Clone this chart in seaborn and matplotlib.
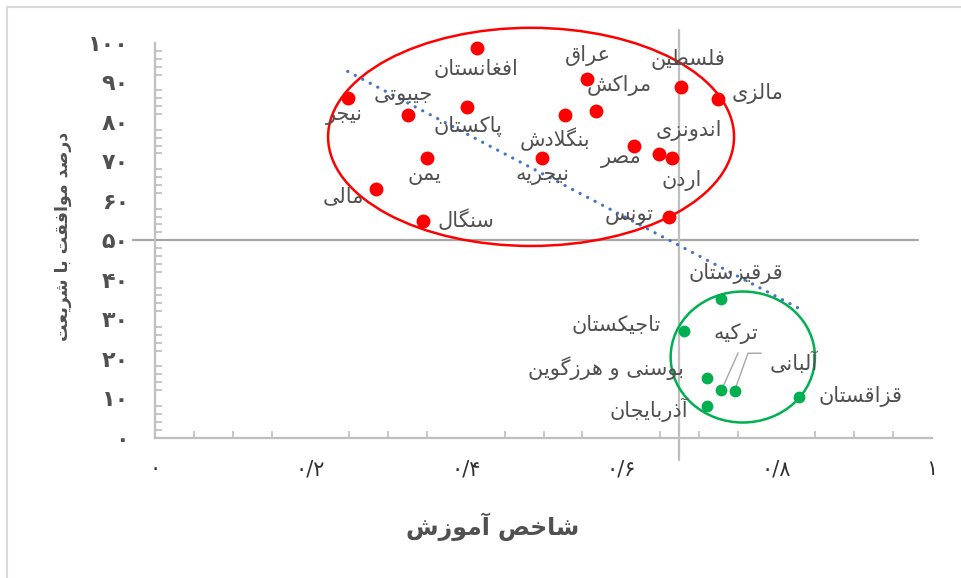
import numpy as np
import pandas as pd
import seaborn as sns
import matplotlib
matplotlib.use("Agg")
import matplotlib.pyplot as plt
from matplotlib.patches import Ellipse, Rectangle
from matplotlib.ticker import MultipleLocator, FixedLocator

# ---------------------------------------------------------------- data
# Countries with a majority agreeing with Sharia (upper group)
upper_names = ["فلسطین", "مالزی", "عراق", "مراکش", "افغانستان", "جیبوتی",
               "نیجر", "پاکستان", "بنگلادش", "اندونزی", "مصر", "اردن",
               "یمن", "نیجریه", "مالی", "سنگال", "تونس"]
upper_edu = [0.677, 0.725, 0.556, 0.568, 0.414, 0.325, 0.248, 0.401, 0.528,
             0.649, 0.617, 0.666, 0.350, 0.498, 0.284, 0.345, 0.661]
upper_sharia = [88.8, 85.8, 90.8, 82.8, 98.8, 81.7, 86.1, 83.7, 81.7,
                71.8, 73.9, 70.8, 70.9, 70.8, 62.9, 54.9, 55.8]

# Countries with a minority agreeing with Sharia (lower group)
lower_names = ["قرقیزستان", "تاجیکستان", "ترکیه", "بوسنی و هرزگوین",
               "آلبانی", "آذربایجان", "قزاقستان"]
lower_edu = [0.728, 0.681, 0.729, 0.710, 0.746, 0.710, 0.829]
lower_sharia = [35.0, 27.1, 12.0, 15.2, 11.9, 8.1, 10.2]

x_ticks = [0, 0.2, 0.4, 0.6, 0.8, 1.0]
x_tick_labels = ["۰", "۰/۲", "۰/۴", "۰/۶", "۰/۸", "۱"]
y_ticks = [0, 10, 20, 30, 40, 50, 60, 70, 80, 90, 100]
y_tick_labels = ["۰", "۱۰", "۲۰", "۳۰", "۴۰", "۵۰", "۶۰", "۷۰", "۸۰", "۹۰", "۱۰۰"]

x_title = "شاخص آموزش"
y_title = "درصد موافقت با شریعت"

edu_cut = 0.674      # vertical reference line
sharia_cut = 50      # horizontal reference line

# ------------------------------------------------ Persian text shaping
# matplotlib has no bidi/shaping engine, so map letters to their
# contextual presentation forms and lay them out right-to-left.
RIGHT_JOIN = {"ا": (0xFE8D, 0xFE8E), "آ": (0xFE81, 0xFE82),
              "د": (0xFEA9, 0xFEAA), "ذ": (0xFEAB, 0xFEAC),
              "ر": (0xFEAD, 0xFEAE), "ز": (0xFEAF, 0xFEB0),
              "ژ": (0xFB8A, 0xFB8B), "و": (0xFEED, 0xFEEE)}
DUAL_JOIN = {"ب": 0xFE8F, "ت": 0xFE95, "ث": 0xFE99, "ج": 0xFE9D,
             "ح": 0xFEA1, "خ": 0xFEA5, "س": 0xFEB1, "ش": 0xFEB5,
             "ص": 0xFEB9, "ض": 0xFEBD, "ط": 0xFEC1, "ظ": 0xFEC5,
             "ع": 0xFEC9, "غ": 0xFECD, "ف": 0xFED1, "ق": 0xFED5,
             "ل": 0xFEDD, "م": 0xFEE1, "ن": 0xFEE5, "ه": 0xFEE9,
             "پ": 0xFB56, "چ": 0xFB7A, "ک": 0xFB8E, "گ": 0xFB92,
             "ی": 0xFBFC}
LAM_ALEF = {"ا": (0xFEFB, 0xFEFC), "آ": (0xFEF5, 0xFEF6)}


def fa(text):
    out = []
    i, n = 0, len(text)
    while i < n:
        c = text[i]
        joined_before = i > 0 and text[i - 1] in DUAL_JOIN
        if c == "ل" and i + 1 < n and text[i + 1] in LAM_ALEF:
            out.append(chr(LAM_ALEF[text[i + 1]][1 if joined_before else 0]))
            i += 2
            continue
        nxt = text[i + 1] if i + 1 < n else ""
        if c in DUAL_JOIN:
            joined_after = nxt in DUAL_JOIN or nxt in RIGHT_JOIN
            base = DUAL_JOIN[c]
            if joined_before and joined_after:
                code = base + 3
            elif joined_before:
                code = base + 1
            elif joined_after:
                code = base + 2
            else:
                code = base
        elif c in RIGHT_JOIN:
            code = RIGHT_JOIN[c][1 if joined_before else 0]
        else:
            code = ord(c)
        out.append(chr(code))
        i += 1
    return "".join(reversed(out))


# ---------------------------------------------------------------- frame
sns.set_theme(style="white")
plt.rcParams["font.family"] = ["DejaVu Sans"]
TEXT = "#505050"
AXIS = "#BFBFBF"

fig = plt.figure(figsize=(9.62, 5.78), dpi=100)
ax = fig.add_axes([155 / 962, 1 - 437.5 / 578, 777 / 962, 394.5 / 578])

upper = pd.DataFrame({"country": upper_names, "edu": upper_edu, "sharia": upper_sharia})
lower = pd.DataFrame({"country": lower_names, "edu": lower_edu, "sharia": lower_sharia})
both = pd.concat([upper, lower], ignore_index=True)

# reference lines
ax.plot([-0.028, 0.982], [sharia_cut, sharia_cut], color="#A6A6A6", lw=1.6,
        clip_on=False, zorder=1)
ax.plot([edu_cut, edu_cut], [-5.6, 103.3], color="#BFBFBF", lw=1.6,
        clip_on=False, zorder=1)

# group outlines
ax.add_patch(Ellipse((0.484, 76.2), 0.5225, 55.3, fill=False, ec="#FF0000",
                     lw=1.8, clip_on=False, zorder=2))
ax.add_patch(Ellipse((0.7565, 20.4), 0.1857, 33.2, fill=False, ec="#00B050",
                     lw=1.8, clip_on=False, zorder=2))

# linear trend across all countries
slope, intercept = np.polyfit(both["edu"], both["sharia"], 1)
tx = np.array([both["edu"].min(), both["edu"].max()])
ax.plot(tx, slope * tx + intercept, color="#4472C4", lw=2.3,
        linestyle=(0, (0.05, 2.6)), dash_capstyle="round", zorder=3)

sns.scatterplot(data=upper, x="edu", y="sharia", ax=ax, color="#FF0000",
                s=100, linewidth=0, legend=False, zorder=4, clip_on=False)
sns.scatterplot(data=lower, x="edu", y="sharia", ax=ax, color="#00B050",
                s=72, linewidth=0, legend=False, zorder=4, clip_on=False)

# label offsets (pixels) from each marker
offsets = {"فلسطین": (7, 28), "مالزی": (39, 6), "عراق": (1, 24),
           "مراکش": (23, 25), "افغانستان": (-1, -21), "جیبوتی": (-4, 20),
           "نیجر": (-3, -17), "پاکستان": (1, -19), "بنگلادش": (-10, -24),
           "اندونزی": (30, 24), "مصر": (-13, -12), "اردن": (9, -22),
           "یمن": (-3, -17), "نیجریه": (1, -17), "مالی": (-32, -7),
           "سنگال": (43, 1), "تونس": (-39, 2), "قرقیزستان": (15, 26),
           "تاجیکستان": (-68, 6), "ترکیه": (14, 57),
           "بوسنی و هرزگوین": (-101, 9), "آلبانی": (59, 28),
           "آذربایجان": (-58, -4), "قزاقستان": (61, 1)}
for _, r in both.iterrows():
    dx, dy = offsets[r["country"]]
    ax.annotate(fa(r["country"]), (r["edu"], r["sharia"]), xytext=(dx, dy),
                textcoords="offset pixels", ha="center", va="center",
                fontsize=15, color=TEXT, zorder=5, annotation_clip=False)

# leader lines for the two overlapping markers
leaders = {"ترکیه": [(0, 0), (15, 31)], "آلبانی": [(0, 0), (12, 31), (24, 31)]}
inv = ax.transData.inverted()
for name, pts in leaders.items():
    row = both[both["country"] == name].iloc[0]
    disp = ax.transData.transform((row["edu"], row["sharia"]))
    line = np.array([inv.transform((disp[0] + dx, disp[1] + dy)) for dx, dy in pts])
    ax.plot(line[:, 0], line[:, 1], color="#A6A6A6", lw=1.0, zorder=3)

# ---------------------------------------------------------------- axes
ax.set_xlim(0, 1)
ax.set_ylim(0, 100)
ax.set_xlabel("")
ax.set_ylabel("")
for side in ["top", "right"]:
    ax.spines[side].set_visible(False)
for side in ["left", "bottom"]:
    ax.spines[side].set_color(AXIS)
    ax.spines[side].set_linewidth(1.6)

ax.xaxis.set_major_locator(FixedLocator(x_ticks))
ax.xaxis.set_minor_locator(MultipleLocator(0.05))
ax.yaxis.set_major_locator(FixedLocator(y_ticks))
ax.yaxis.set_minor_locator(MultipleLocator(2))
ax.set_xticklabels(x_tick_labels, fontsize=15, color="#303030")
ax.set_yticklabels(y_tick_labels, fontsize=16, fontweight="bold", color=TEXT)
ax.tick_params(axis="both", which="major", direction="inout", length=11.5,
               width=1.4, color=AXIS)
ax.tick_params(axis="both", which="minor", direction="in", length=4.8,
               width=1.2, color=AXIS)
ax.tick_params(axis="x", which="major", pad=10)
ax.tick_params(axis="y", which="major", pad=13)
ax.tick_params(axis="x", which="minor", bottom=True)
ax.tick_params(axis="y", which="minor", left=True)

fig.text(493 / 962, 1 - 527 / 578, fa(x_title), ha="center", va="center",
         fontsize=17, fontweight="bold", color=TEXT)
fig.text(63 / 962, 1 - 236 / 578, fa(y_title), ha="center", va="center",
         rotation=90, fontsize=12.5, fontweight="bold", color=TEXT)

# chart border
fig.add_artist(Rectangle((7 / 962, -0.05), 1.2, 1 - 6.5 / 578 + 0.05,
                         transform=fig.transFigure, fill=False,
                         ec="#D9D9D9", lw=1.5))

fig.savefig("out.png", dpi=100)
